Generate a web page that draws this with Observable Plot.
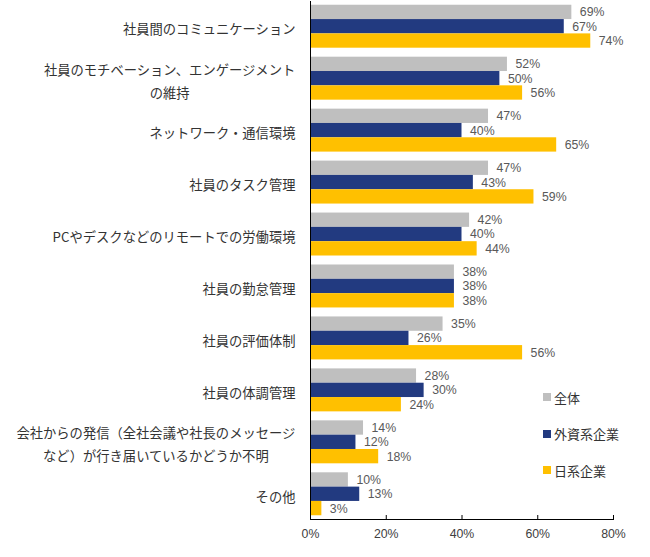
<!DOCTYPE html>
<html>
<head>
<meta charset="utf-8">
<script src="https://cdn.jsdelivr.net/npm/d3@7"></script>
<script src="https://cdn.jsdelivr.net/npm/@observablehq/plot@0.6"></script>
<style>
  body { margin: 0; background: #fff; }
  #wrap { position: relative; width: 650px; height: 557px; }
  .lg { position: absolute; left: 543px; height: 20px; display: flex; align-items: center;
        font-family: "Noto Sans CJK JP", sans-serif; font-size: 13px; color: #333; white-space: nowrap; }
  .lg span.sw { display: inline-block; width: 8px; height: 8px; margin-right: 3px; }
</style>
</head>
<body>
<div id="wrap"></div>
<script>
const categories = [
  "社員間のコミュニケーション",
  "社員のモチベーション、エンゲージメント\nの維持",
  "ネットワーク・通信環境",
  "社員のタスク管理",
  "PCやデスクなどのリモートでの労働環境",
  "社員の勤怠管理",
  "社員の評価体制",
  "社員の体調管理",
  "会社からの発信（全社会議や社長のメッセージ\nなど）が行き届いているかどうか不明",
  "その他"
];
const seriesNames = ["全体", "外資系企業", "日系企業"];
const overall  = [69, 52, 47, 47, 42, 38, 35, 28, 14, 10];
const foreign  = [67, 50, 40, 43, 40, 38, 26, 30, 12, 13];
const japanese = [74, 56, 65, 59, 44, 38, 56, 24, 18, 3];
const xTicks = [0, 20, 40, 60, 80];
const colors = ["#BFBFBF", "#223A80", "#FFC000"];

const W = 650, H = 557, mL = 310, mR = 37, mT = 1, mB = 38;
const plotH = H - mT - mB;
const pInner = 0.173, pOuter = 0.072;
const step = plotH / (categories.length - pInner + 2 * pOuter);
const bw = step * (1 - pInner);
const bh = bw / 3;

const seriesValues = [overall, foreign, japanese];
const rows = categories.flatMap((c, i) =>
  seriesNames.map((s, j) => ({category: c, series: s, idx: j, value: seriesValues[j][i]})));

const labelFont = '"Noto Sans CJK JP", sans-serif';
const labelSize = 13.3;
const numFont = '"Liberation Sans", Arial, sans-serif';

const ctx = document.createElement("canvas").getContext("2d");
ctx.font = `${labelSize}px "Noto Sans CJK JP"`;

const marks = [];
seriesNames.forEach((s, j) => {
  const data = rows.filter(d => d.idx === j);
  marks.push(Plot.barX(data, {
    x: "value", y: "category", fill: colors[j],
    insetTop: j * bh, insetBottom: (2 - j) * bh
  }));
  marks.push(Plot.text(data, {
    x: "value", y: "category", text: d => d.value + "%",
    dx: 8, dy: (j - 1) * bh, textAnchor: "start",
    fill: "#595959", fontSize: 12.3, fontWeight: "normal", fontFamily: numFont
  }));
});

categories.forEach(c => {
  const lines = c.split("\n");
  let anchor = "end", dx = -15;
  if (lines.length > 1) {
    const w = Math.max(...lines.map(l => ctx.measureText(l).width));
    anchor = "middle";
    dx = -15 - w / 2;
  }
  marks.push(Plot.text([c], {
    y: d => d, text: d => d, frameAnchor: "left", textAnchor: anchor, dx,
    lineHeight: 1.73, fontSize: labelSize, fontFamily: labelFont, fill: "#333"
  }));
});

marks.push(Plot.tickX(xTicks.slice(1), {x: d => d, insetTop: plotH - 4, stroke: "#000"}));
marks.push(Plot.frame({anchor: "bottom", stroke: "#000"}));
marks.push(Plot.ruleX([0], {stroke: "#000"}));
marks.push(Plot.axisX(xTicks, {
  tickSize: 0, tickPadding: 10, tickFormat: d => d + "%", label: null,
  fontSize: 12.3, fontWeight: "normal", fontFamily: numFont, fill: "#404040"
}));

const chart = Plot.plot({
  width: W, height: H,
  marginLeft: mL, marginRight: mR, marginTop: mT, marginBottom: mB,
  x: {domain: [0, 80], label: null},
  y: {domain: categories, axis: null, paddingInner: pInner, paddingOuter: pOuter, round: false},
  style: {background: "#fff", overflow: "visible"},
  marks
});

const wrap = document.getElementById("wrap");
wrap.appendChild(chart);

const legendCenters = [397, 433.5, 470];
seriesNames.forEach((s, j) => {
  const div = document.createElement("div");
  div.className = "lg";
  div.style.top = (legendCenters[j] - 10) + "px";
  const sw = document.createElement("span");
  sw.className = "sw";
  sw.style.background = colors[j];
  div.appendChild(sw);
  div.appendChild(document.createTextNode(s));
  wrap.appendChild(div);
});
</script>
</body>
</html>
